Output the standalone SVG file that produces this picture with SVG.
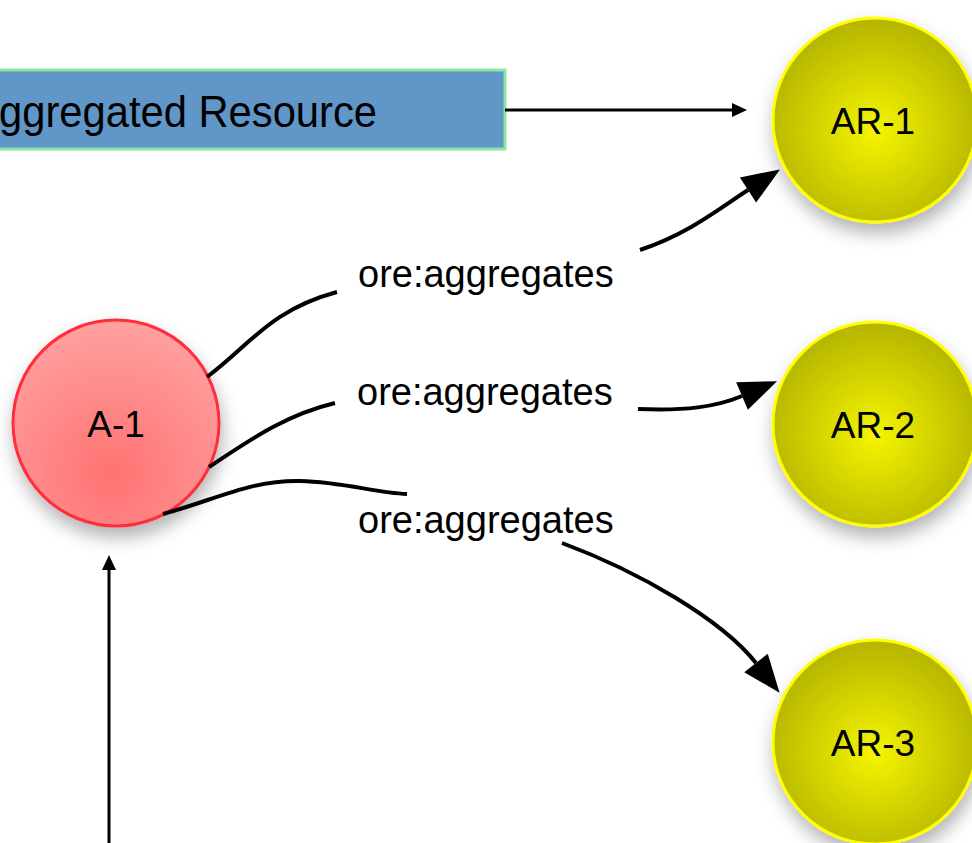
<svg xmlns="http://www.w3.org/2000/svg" width="972" height="843" viewBox="0 0 972 843">
  <style>
    .lbl { font-family: "Liberation Sans", Arial, sans-serif; font-size: 38px; fill: #000; }
    .nt { font-family: "Liberation Sans", Arial, sans-serif; font-size: 37px; fill: #000; text-anchor: middle; }
    .title { font-family: "Liberation Sans", Arial, sans-serif; font-size: 44px; fill: #000; }
    .edge { fill: none; stroke: #000; stroke-width: 4; }
    .thin { fill: none; stroke: #000; stroke-width: 3; }
    .yel { fill: url(#gy); stroke: #ffff00; stroke-width: 3; filter: url(#sh); }
    .red { fill: url(#gr); stroke: #ff2d3c; stroke-width: 3; filter: url(#sh); }
  </style>
  <defs>
    <radialGradient id="gy" cx="0.5" cy="0.55" r="0.55">
      <stop offset="0" stop-color="#f5f500"/>
      <stop offset="1" stop-color="#b4b400"/>
    </radialGradient>
    <radialGradient id="gr" cx="0.48" cy="0.75" r="0.75">
      <stop offset="0" stop-color="#ff7272"/>
      <stop offset="1" stop-color="#ffa0a0"/>
    </radialGradient>
    <filter id="sh" x="-30%" y="-30%" width="160%" height="170%">
      <feDropShadow dx="2" dy="10" stdDeviation="9" flood-color="#000" flood-opacity="0.3"/>
    </filter>
    <marker id="big" markerUnits="userSpaceOnUse" markerWidth="40" markerHeight="32" refX="0" refY="15" orient="auto" overflow="visible">
      <path d="M0,0 L38,15 L0,30 z" fill="#000"/>
    </marker>
    <marker id="small" markerUnits="userSpaceOnUse" markerWidth="16" markerHeight="14" refX="0" refY="7" orient="auto" overflow="visible">
      <path d="M0,0 L15,7 L0,14 z" fill="#000"/>
    </marker>
  </defs>

  <g id="aggregated-resource">
    <rect x="-10" y="70" width="515" height="79" fill="#6096c8" stroke="#8de6a4" stroke-width="3"/>
    <text class="title" x="-1" y="127" textLength="378" lengthAdjust="spacingAndGlyphs">ggregated Resource</text>
  </g>

  <g id="A-1">
    <circle class="red" cx="116" cy="423" r="103"/>
    <text class="nt" x="116" y="437">A-1</text>
  </g>

  <g id="AR-1">
    <circle class="yel" cx="875" cy="120" r="102"/>
    <text class="nt" x="873" y="134">AR-1</text>
  </g>

  <g id="AR-2">
    <circle class="yel" cx="875" cy="424" r="102"/>
    <text class="nt" x="873" y="438">AR-2</text>
  </g>

  <g id="AR-3">
    <circle class="yel" cx="875" cy="742" r="102"/>
    <text class="nt" x="873" y="756">AR-3</text>
  </g>

  <g id="connectors">
    <line class="thin" x1="505" y1="110" x2="732" y2="110" marker-end="url(#small)"/>
    <line class="thin" x1="109" y1="843" x2="109" y2="570" marker-end="url(#small)"/>

    <path class="edge" d="M207,377 C250,345 270,310 337,292"/>
    <path class="edge" d="M640,250 C690,233 720,208 748,190" marker-end="url(#big)"/>
    <text class="lbl" x="358" y="287">ore:aggregates</text>

    <path class="edge" d="M209,467 C250,440 285,415 335,403"/>
    <path class="edge" d="M638,409 C685,411 716,407 742,396" marker-end="url(#big)"/>
    <text class="lbl" x="357" y="405">ore:aggregates</text>

    <path class="edge" d="M163,514 C215,500 250,480 300,481 C345,482 375,493 407,494"/>
    <path class="edge" d="M562,543 C640,572 722,620 756,663" marker-end="url(#big)"/>
    <text class="lbl" x="358" y="533">ore:aggregates</text>
  </g>
</svg>
